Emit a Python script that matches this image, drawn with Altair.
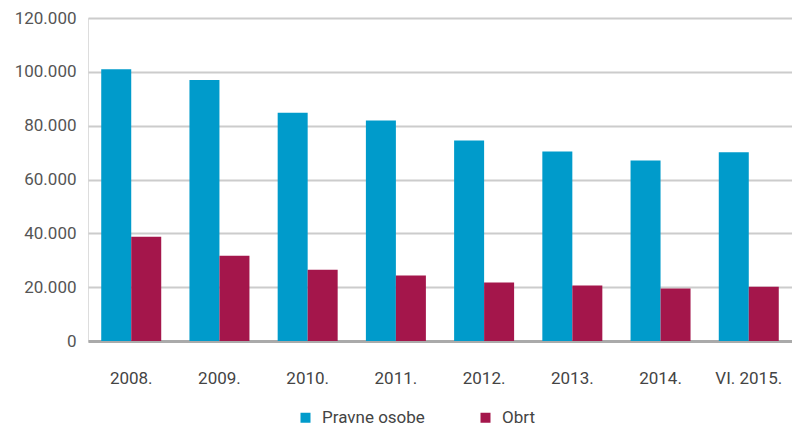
import altair as alt
import pandas as pd

years = ["2008.", "2009.", "2010.", "2011.", "2012.", "2013.", "2014.", "VI. 2015."]
pravne = [101000, 97000, 84800, 81900, 74500, 70400, 67100, 70100]
obrt = [38700, 31700, 26500, 24300, 21700, 20600, 19500, 20200]
series = ["Pravne osobe", "Obrt"]
colors = ["#009BCB", "#A4164B"]

rows = []
for i, y in enumerate(years):
    rows.append({"year": y, "series": series[0], "value": pravne[i]})
    rows.append({"year": y, "series": series[1], "value": obrt[i]})
df = pd.DataFrame(rows)

font = "Roboto"

bars = alt.Chart(df).mark_bar(size=30).encode(
    x=alt.X("year:N", sort=years, title=None,
            scale=alt.Scale(paddingInner=0.32, paddingOuter=0.15),
            axis=alt.Axis(labelAngle=0, labelPadding=29, ticks=False,
                          domain=True, domainColor="#aaaaaa", domainWidth=3,
                          labelFont=font, labelFontSize=17, labelColor="#444444",
                          grid=False)),
    xOffset=alt.XOffset("series:N", sort=series),
    y=alt.Y("value:Q", title=None,
            scale=alt.Scale(domain=[0, 120000]),
            axis=alt.Axis(values=[0, 20000, 40000, 60000, 80000, 100000, 120000],
                          labelExpr="replace(format(datum.value, ','), ',', '.')",
                          ticks=False, domain=False, labelPadding=12,
                          labelFont=font, labelFontSize=17, labelColor="#555555",
                          gridColor="#cccccc", gridWidth=2)),
    color=alt.Color("series:N", sort=series,
                    scale=alt.Scale(domain=series, range=colors),
                    legend=alt.Legend(title=None, orient="none", direction="horizontal",
                                      legendX=209, legendY=391,
                                      symbolType="square", symbolSize=100,
                                      symbolStrokeWidth=0, symbolOpacity=1,
                                      labelFont=font, labelFontSize=17,
                                      labelColor="#444444", labelOffset=8,
                                      columnPadding=52)),
)

chart = bars.properties(
    width=704, height=323,
    autosize=alt.AutoSizeParams(type="none"),
    padding={"left": 80, "top": 10, "right": 0, "bottom": 92},
).configure_view(stroke=None).configure(background="white")

chart.save("out.html", embed_options={"renderer": "svg", "actions": False})
